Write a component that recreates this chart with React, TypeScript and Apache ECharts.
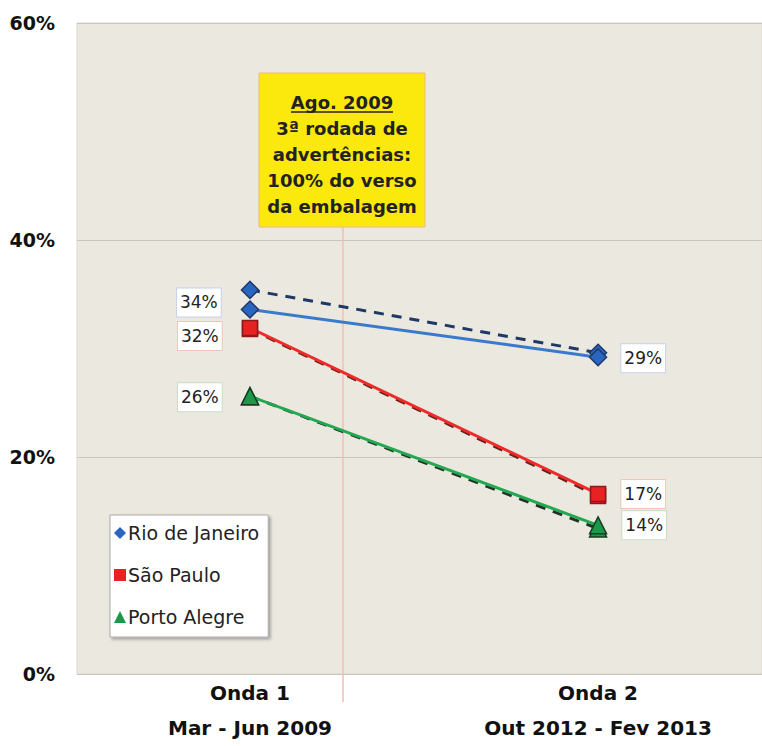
import React, { useEffect, useRef } from "react";
import * as echarts from "echarts";

const categories = ["Onda 1\nMar - Jun 2009", "Onda 2\nOut 2012 - Fev 2013"];
const yTicks = [0, 20, 40, 60];
const rioSolid = [33.6, 29.2];
const rioDashed = [35.4, 29.6];
const spSolid = [31.9, 16.6];
const spDashed = [31.8, 16.4];
const paSolid = [25.6, 13.7];
const paDashed = [25.6, 13.4];
const seriesNames = ["Rio de Janeiro", "São Paulo", "Porto Alegre"];
const noteLines = ["Ago. 2009", "3ª rodada de", "advertências:", "100% do verso", "da embalagem"];

const FONT = "DejaVu Sans";

const pairs = (values: number[]) => values.map((v, i) => [i, v]);

function labelItems(values: number[], opts: { d1: number; d2: number; o1: number; o2: number; border: string }) {
  return values.map((v, i) => ({
    value: [i, v],
    label: {
      show: true,
      position: i === 0 ? "left" : "right",
      distance: i === 0 ? opts.d1 : opts.d2,
      offset: [0, i === 0 ? opts.o1 : opts.o2],
      formatter: (p: any) => Math.round(p.value[1]) + "%",
      color: "#222",
      fontFamily: FONT,
      fontSize: 17,
      lineHeight: 20,
      backgroundColor: "#ffffff",
      borderColor: opts.border,
      borderWidth: 1,
      padding: [4, 3, 4, 3],
    },
  }));
}

export default function App() {
  const ref = useRef<HTMLDivElement>(null);
  useEffect(() => {
    document.body.style.margin = "0";
    const chart = echarts.init(ref.current!, undefined, { renderer: "svg" });
    const dashedBase = (name: string, data: number[], color: string, symbol: string, size: number, fill: string, border: string) => ({
      name,
      type: "line",
      data: pairs(data),
      symbol,
      symbolSize: size,
      lineStyle: { color, width: 3, type: [10, 8] },
      itemStyle: { color: fill, borderColor: border, borderWidth: 1.5 },
      z: 2,
    });
    chart.setOption({
      animation: false,
      grid: {
        left: 77,
        top: 23,
        bottom: 72,
        right: 0,
        show: true,
        backgroundColor: "#ebe8e0",
        borderColor: "#dcd8cc",
        borderWidth: 1,
      },
      xAxis: {
        type: "value",
        min: -0.497,
        max: 1.471,
        splitLine: { show: false },
        axisLine: { show: false },
        axisTick: { show: false },
        axisLabel: {
          customValues: [0, 1],
          formatter: (v: number) => categories[Math.round(v)] ?? "",
          color: "#111",
          fontFamily: FONT,
          fontWeight: "bold",
          fontSize: 20,
          lineHeight: 35,
          margin: 1,
        },
      },
      yAxis: {
        type: "value",
        min: yTicks[0],
        max: yTicks[yTicks.length - 1],
        interval: 20,
        axisLine: { show: false },
        axisTick: { show: false },
        splitLine: { lineStyle: { color: "#c9c5bb", width: 1 } },
        axisLabel: {
          formatter: (v: number) => v + "%",
          color: "#111",
          fontFamily: FONT,
          fontWeight: "bold",
          fontSize: 19,
          margin: 22,
        },
      },
      legend: {
        orient: "vertical",
        left: 110,
        top: 515,
        data: [
          { name: seriesNames[0], icon: "diamond" },
          { name: seriesNames[1], icon: "rect" },
          { name: seriesNames[2], icon: "triangle" },
        ],
        itemWidth: 12,
        itemHeight: 12,
        itemGap: 22,
        itemStyle: { borderWidth: 0 },
        padding: [8, 9, 10, 4],
        backgroundColor: "#ffffff",
        borderColor: "#aaaaaa",
        borderWidth: 1,
        shadowBlur: 3,
        shadowColor: "rgba(0,0,0,0.3)",
        shadowOffsetX: 2,
        shadowOffsetY: 2,
        textStyle: { color: "#222", fontFamily: FONT, fontSize: 19, lineHeight: 20, padding: [0, 0, 0, -3] },
        selectedMode: false,
      },
      series: [
        dashedBase("rio-adj", rioDashed, "#1f3864", "diamond", 17, "#2a66c0", "#1f3a6a"),
        dashedBase("sp-adj", spDashed, "#6a2218", "rect", 15, "#e82222", "#8b1a1a"),
        dashedBase("pa-adj", paDashed, "#26302a", "triangle", 17, "#1a9a48", "#173d22"),
        {
          name: seriesNames[0],
          type: "line",
          data: labelItems(rioSolid, { d1: 20, d2: 14, o1: -7, o2: 1, border: "#c6d2e6" }),
          symbol: "diamond",
          symbolSize: 17,
          lineStyle: { color: "#3a7acc", width: 3 },
          itemStyle: { color: "#2a66c0", borderColor: "#1f3a6a", borderWidth: 1.5 },
          z: 3,
        },
        {
          name: seriesNames[1],
          type: "line",
          data: labelItems(spSolid, { d1: 20, d2: 15, o1: 8, o2: 0, border: "#f0c6b4" }),
          symbol: "rect",
          symbolSize: 15,
          lineStyle: { color: "#ee2a2a", width: 3 },
          itemStyle: { color: "#e82222", borderColor: "#8b1a1a", borderWidth: 1.5 },
          z: 3,
        },
        {
          name: seriesNames[2],
          type: "line",
          data: labelItems(paSolid, { d1: 19, d2: 15, o1: 1, o2: 0, border: "#c8dcc6" }),
          symbol: "triangle",
          symbolSize: 17,
          lineStyle: { color: "#22a84e", width: 3 },
          itemStyle: { color: "#1a9a48", borderColor: "#173d22", borderWidth: 1.5 },
          z: 3,
        },
      ],
      graphic: [
        {
          type: "line",
          z: 1,
          shape: { x1: 343, y1: 227, x2: 343, y2: 702 },
          style: { stroke: "#f4bfae", lineWidth: 1.5 },
        },
        {
          type: "rect",
          z: 10,
          shape: { x: 259, y: 73, width: 166, height: 154 },
          style: { fill: "#fbe80c", stroke: "#f0b880", lineWidth: 1 },
        },
        {
          type: "text",
          z: 11,
          x: 342,
          y: 89,
          style: {
            text: noteLines.join("\n"),
            fill: "#222",
            font: `bold 18px '${FONT}'`,
            textAlign: "center",
            textVerticalAlign: "top",
            lineHeight: 26,
          },
        },
        {
          type: "line",
          z: 11,
          shape: { x1: 291, y1: 112, x2: 393, y2: 112 },
          style: { stroke: "#222", lineWidth: 1.5 },
        },
      ],
    });
    return () => chart.dispose();
  }, []);
  return <div ref={ref} style={{ position: "absolute", left: 0, top: 0, width: 762, height: 746 }} />;
}
